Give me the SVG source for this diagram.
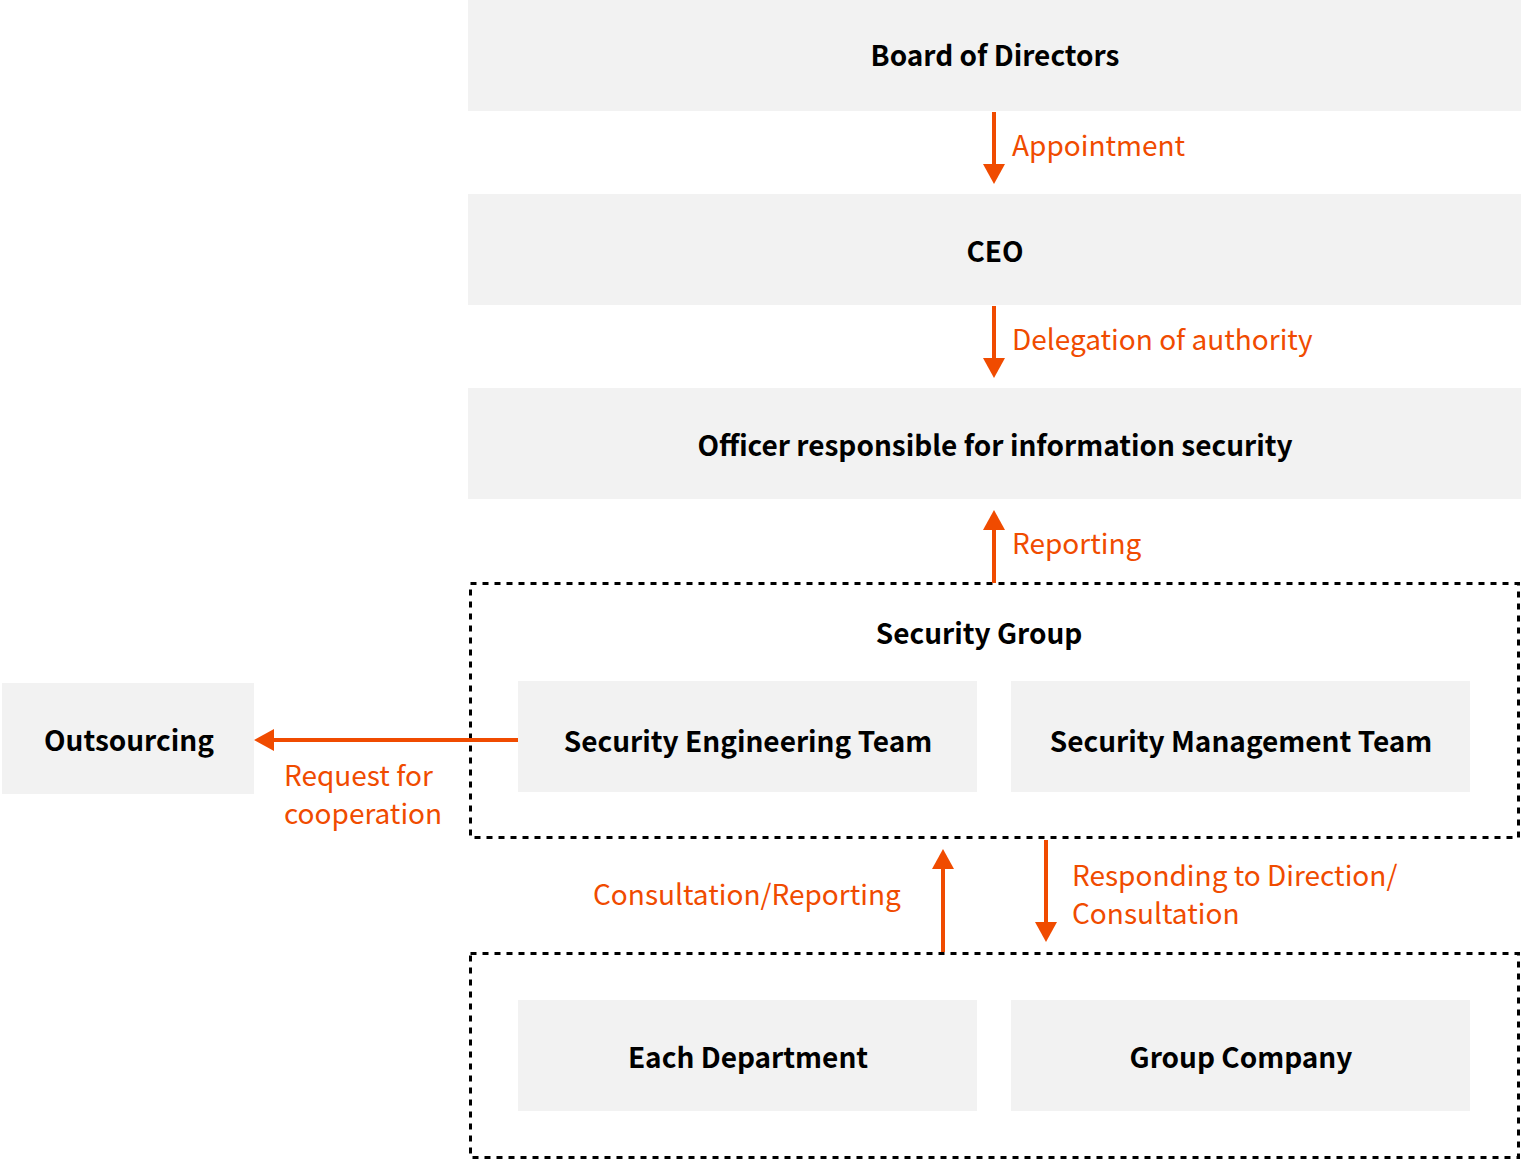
<svg xmlns="http://www.w3.org/2000/svg" width="1521" height="1160" viewBox="0 0 1521 1160">
<style>
.box{fill:#f2f2f2}
.grp{fill:none;stroke:#000;stroke-width:3;stroke-dasharray:6 6}
.t{font-family:"Noto Sans CJK JP","Source Sans Pro","Noto Sans",sans-serif;font-weight:bold;font-size:28px;fill:#000;text-anchor:middle}
.l{font-family:"Noto Sans CJK JP","Source Sans Pro","Noto Sans",sans-serif;font-size:28px;fill:#f04b00}
.ln{stroke:#f04b00;stroke-width:4;fill:none}
.ah{fill:#f04b00}
</style>
<rect width="1521" height="1160" fill="#fff"/>
<g id="board"><rect class="box" x="468" y="0" width="1053" height="111"/><text class="t" x="995" y="66">Board of Directors</text></g>
<g id="ceo"><rect class="box" x="468" y="194" width="1053" height="111"/><text class="t" x="995" y="262">CEO</text></g>
<g id="officer"><rect class="box" x="468" y="388" width="1053" height="111"/><text class="t" x="995" y="456">Officer responsible for information security</text></g>
<g id="security-group"><rect class="grp" x="470.5" y="583.5" width="1048" height="254"/><text class="t" x="979" y="644">Security Group</text></g>
<g id="sec-eng"><rect class="box" x="518" y="681" width="459" height="111"/><text class="t" x="748" y="752">Security Engineering Team</text></g>
<g id="sec-mgmt"><rect class="box" x="1011" y="681" width="459" height="111"/><text class="t" x="1241" y="752">Security Management Team</text></g>
<g id="outsourcing"><rect class="box" x="2" y="683" width="252" height="111"/><text class="t" x="129" y="751">Outsourcing</text></g>
<g id="departments"><rect class="grp" x="470.5" y="953.5" width="1048" height="204"/></g>
<g id="each-dept"><rect class="box" x="518" y="1000" width="459" height="111"/><text class="t" x="748" y="1068">Each Department</text></g>
<g id="group-company"><rect class="box" x="1011" y="1000" width="459" height="111"/><text class="t" x="1241" y="1068">Group Company</text></g>
<g id="connectors">
<line class="ln" x1="994" y1="112" x2="994" y2="166"/><polygon class="ah" points="983,164 1005,164 994,184"/>
<text class="l" x="1012" y="156">Appointment</text>
<line class="ln" x1="994" y1="306" x2="994" y2="360"/><polygon class="ah" points="983,358 1005,358 994,378"/>
<text class="l" x="1012" y="350">Delegation of authority</text>
<line class="ln" x1="994" y1="583" x2="994" y2="528"/><polygon class="ah" points="983,530 1005,530 994,510"/>
<text class="l" x="1012" y="554">Reporting</text>
<line class="ln" x1="518" y1="740" x2="272" y2="740"/><polygon class="ah" points="274,729 274,751 254,740"/>
<text class="l" x="284" y="786">Request for</text>
<text class="l" x="284" y="824">cooperation</text>
<line class="ln" x1="943" y1="952" x2="943" y2="867"/><polygon class="ah" points="932,869 954,869 943,849"/>
<text class="l" x="593" y="905">Consultation/Reporting</text>
<line class="ln" x1="1046" y1="840" x2="1046" y2="924"/><polygon class="ah" points="1035,922 1057,922 1046,942"/>
<text class="l" x="1072" y="886">Responding to Direction/</text>
<text class="l" x="1072" y="924">Consultation</text>
</g>
</svg>
